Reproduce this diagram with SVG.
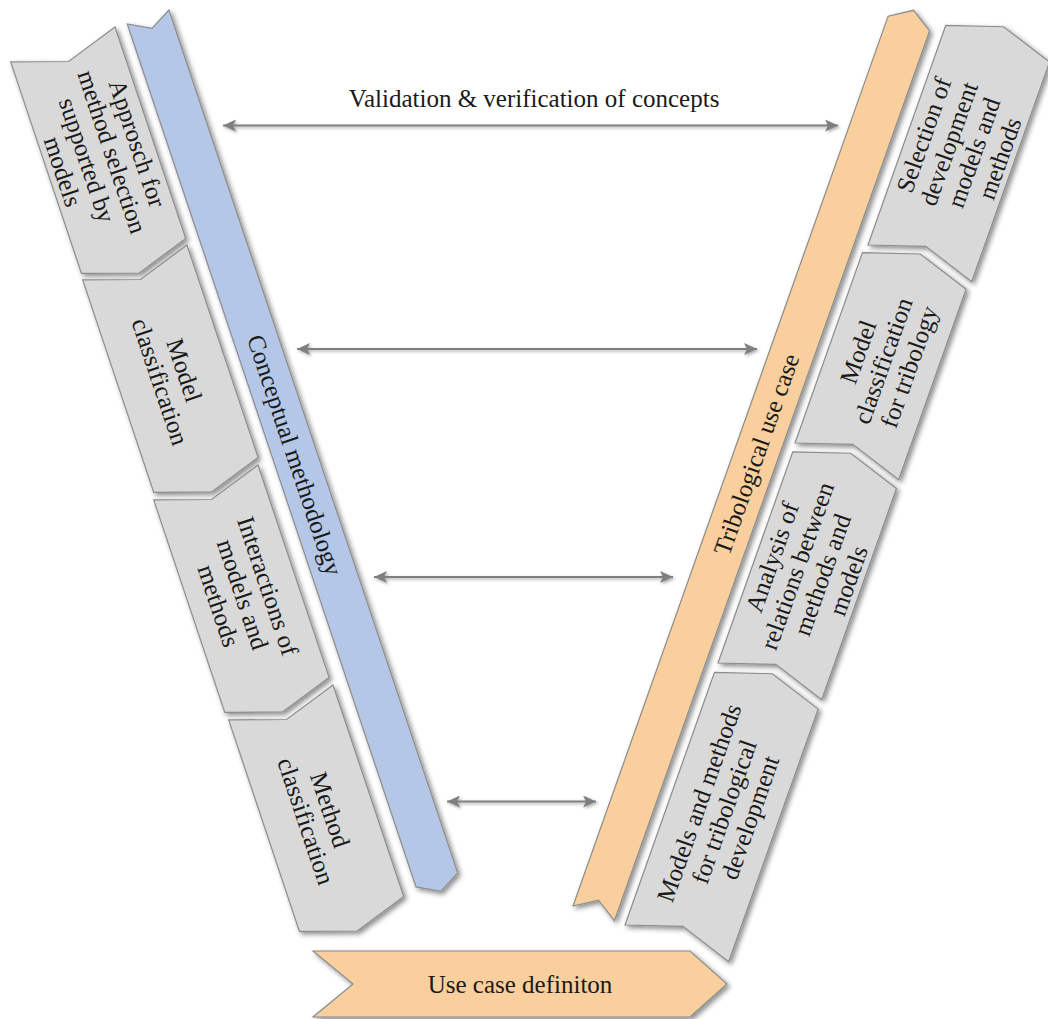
<svg xmlns="http://www.w3.org/2000/svg" width="1048" height="1019" viewBox="0 0 1048 1019" font-family="'Liberation Serif', 'DejaVu Serif', serif">
  <defs>
    <style>
      .box { fill: #d9d9d9; stroke: #8c8c8c; stroke-width: 1.2; }
      .blue { fill: #b4c7e7; stroke: #8c8c8c; stroke-width: 1.2; }
      .orange { fill: #f8cf9d; stroke: #8c8c8c; stroke-width: 1.2; }
      text { font-family: 'Liberation Serif', 'DejaVu Serif', serif; }
      .lbl { font-size: 25px; fill: #1a1a1a; text-anchor: middle; dominant-baseline: central; }
      .conn { stroke: #7f7f7f; stroke-width: 2; fill: none; marker-start: url(#head-start); marker-end: url(#head-end); }
    </style>
    <filter id="shadow" x="-20%" y="-20%" width="140%" height="140%">
      <feDropShadow dx="2.5" dy="2.5" stdDeviation="2.5" flood-color="#000" flood-opacity="0.45"/>
    </filter>
    <filter id="soft" x="-10%" y="-100%" width="120%" height="300%">
      <feDropShadow dx="1.5" dy="1.5" stdDeviation="1.5" flood-color="#000" flood-opacity="0.35"/>
    </filter>
    <marker id="head-end" markerUnits="userSpaceOnUse" markerWidth="14" markerHeight="12" refX="13" refY="6" orient="auto">
      <path d="M0,0 L13,6 L0,12 L3,6 Z" fill="#7f7f7f"/>
    </marker>
    <marker id="head-start" markerUnits="userSpaceOnUse" markerWidth="14" markerHeight="12" refX="0" refY="6" orient="auto">
      <path d="M13,0 L0,6 L13,12 L10,6 Z" fill="#7f7f7f"/>
    </marker>
  </defs>

  <rect width="1048" height="1019" fill="#ffffff"/>

  <!-- Left side: conceptual methodology band -->
  <g id="band-conceptual">
    <g filter="url(#shadow)">
      <polygon class="blue" transform="translate(169,10) rotate(71.5)" points="0,0 910,0 922,22 910,44 0,44 12,22"/>
    </g>
    <text class="lbl" font-family="Liberation Serif, serif" transform="translate(169,10) rotate(71.5)" x="462" y="22">Conceptual methodology</text>
  </g>

  <!-- Left side steps -->
  <g id="node-approach">
    <g filter="url(#shadow)">
      <polygon class="box" transform="translate(115,27) rotate(71.5)" points="0,0 223,0 241,55 223,110 0,110 18,55"/>
    </g>
    <text class="lbl" font-family="Liberation Serif, serif" transform="translate(115,27) rotate(71.5)">
      <tspan x="120.5" y="15.25">Approsch for</tspan>
      <tspan x="120.5" y="41.75">method selection</tspan>
      <tspan x="120.5" y="68.25">supported by</tspan>
      <tspan x="120.5" y="94.75">models</tspan>
    </text>
  </g>

  <g id="node-model-classification">
    <g filter="url(#shadow)">
      <polygon class="box" transform="translate(187,245) rotate(71.5)" points="0,0 224,0 242,55 224,110 0,110 18,55"/>
    </g>
    <text class="lbl" font-family="Liberation Serif, serif" transform="translate(187,245) rotate(71.5)">
      <tspan x="121" y="41.75">Model</tspan>
      <tspan x="121" y="68.25">classification</tspan>
    </text>
  </g>

  <g id="node-interactions">
    <g filter="url(#shadow)">
      <polygon class="box" transform="translate(258,465) rotate(71.5)" points="0,0 224,0 242,55 224,110 0,110 18,55"/>
    </g>
    <text class="lbl" font-family="Liberation Serif, serif" transform="translate(258,465) rotate(71.5)">
      <tspan x="121" y="28.5">Interactions of</tspan>
      <tspan x="121" y="55">models and</tspan>
      <tspan x="121" y="81.5">methods</tspan>
    </text>
  </g>

  <g id="node-method-classification">
    <g filter="url(#shadow)">
      <polygon class="box" transform="translate(333,685) rotate(71.5)" points="0,0 223,0 241,55 223,110 0,110 18,55"/>
    </g>
    <text class="lbl" font-family="Liberation Serif, serif" transform="translate(333,685) rotate(71.5)">
      <tspan x="120.5" y="41.75">Method</tspan>
      <tspan x="120.5" y="68.25">classification</tspan>
    </text>
  </g>

  <!-- Right side: tribological use case band -->
  <g id="band-tribological">
    <g filter="url(#shadow)">
      <polygon class="orange" transform="translate(573,906) rotate(-70.5)" points="0,0 944,0 958,22 944,44 0,44 14,22"/>
    </g>
    <text class="lbl" font-family="Liberation Serif, serif" transform="translate(573,906) rotate(-70.5)" x="487" y="22">Tribological use case</text>
  </g>

  <!-- Right side steps -->
  <g id="node-selection">
    <g filter="url(#shadow)">
      <polygon class="box" transform="translate(868,245) rotate(-70.5)" points="0,0 233,0 251,55 233,110 0,110 18,55"/>
    </g>
    <text class="lbl" font-family="Liberation Serif, serif" transform="translate(868,245) rotate(-70.5)">
      <tspan x="125.5" y="15.25">Selection of</tspan>
      <tspan x="125.5" y="41.75">development</tspan>
      <tspan x="125.5" y="68.25">models and</tspan>
      <tspan x="125.5" y="94.75">methods</tspan>
    </text>
  </g>

  <g id="node-model-tribology">
    <g filter="url(#shadow)">
      <polygon class="box" transform="translate(795,443) rotate(-70.5)" points="0,0 202,0 220,55 202,110 0,110 18,55"/>
    </g>
    <text class="lbl" font-family="Liberation Serif, serif" transform="translate(795,443) rotate(-70.5)">
      <tspan x="110" y="28.5">Model</tspan>
      <tspan x="110" y="55">classification</tspan>
      <tspan x="110" y="81.5">for tribology</tspan>
    </text>
  </g>

  <g id="node-analysis">
    <g filter="url(#shadow)">
      <polygon class="box" transform="translate(718,663) rotate(-70.5)" points="0,0 224,0 242,55 224,110 0,110 18,55"/>
    </g>
    <text class="lbl" font-family="Liberation Serif, serif" transform="translate(718,663) rotate(-70.5)">
      <tspan x="121" y="15.25">Analysis of</tspan>
      <tspan x="121" y="41.75">relations between</tspan>
      <tspan x="121" y="68.25">methods and</tspan>
      <tspan x="121" y="94.75">models</tspan>
    </text>
  </g>

  <g id="node-models-methods">
    <g filter="url(#shadow)">
      <polygon class="box" transform="translate(625,925) rotate(-70.5)" points="0,0 268,0 286,55 268,110 0,110 18,55"/>
    </g>
    <text class="lbl" font-family="Liberation Serif, serif" transform="translate(625,925) rotate(-70.5)">
      <tspan x="143" y="28.5">Models and methods</tspan>
      <tspan x="143" y="55">for tribological</tspan>
      <tspan x="143" y="81.5">development</tspan>
    </text>
  </g>

  <!-- Bottom: use case definition -->
  <g id="node-use-case">
    <g filter="url(#shadow)">
      <polygon class="orange" points="313,951 690,951 727,984 690,1017 313,1017 353,984"/>
    </g>
    <text class="lbl" font-family="Liberation Serif, serif" x="520" y="984">Use case definiton</text>
  </g>

  <!-- Horizontal links between the two branches -->
  <g id="connectors" filter="url(#soft)">
    <line class="conn" x1="223" y1="125.5" x2="838" y2="125.5"/>
    <line class="conn" x1="297" y1="349" x2="757" y2="349"/>
    <line class="conn" x1="374" y1="577" x2="673" y2="577"/>
    <line class="conn" x1="447" y1="801.5" x2="596" y2="801.5"/>
  </g>
  <text class="lbl" font-family="Liberation Serif, serif" x="534" y="98">Validation &amp; verification of concepts</text>
</svg>
